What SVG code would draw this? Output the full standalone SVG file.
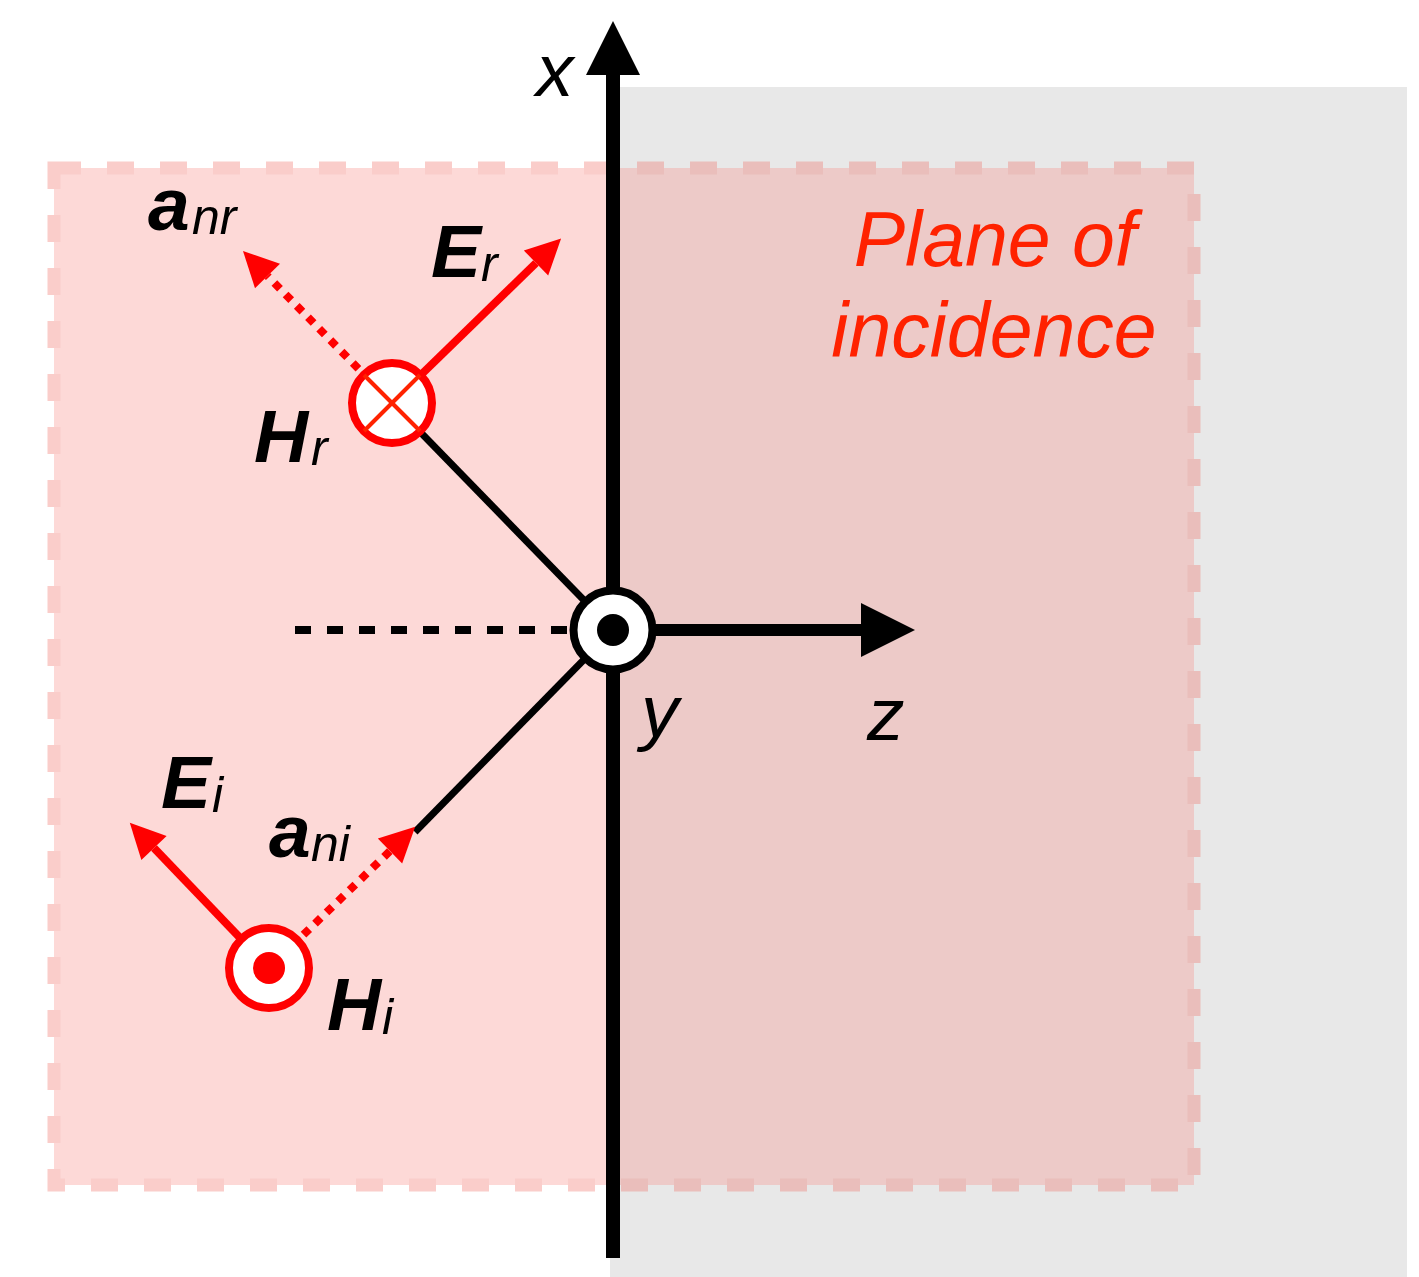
<svg xmlns="http://www.w3.org/2000/svg" width="1419" height="1277" viewBox="0 0 1419 1277">
<style>
.lbl{font-family:"Liberation Sans",Arial,Helvetica,sans-serif;fill:#000}
.big{font-size:75px;font-weight:bold;font-style:italic}
.sub{font-size:50px;font-weight:normal;font-style:italic}
.ax{font-size:75px;font-style:italic}
.plane{font-family:"Liberation Sans",Arial,Helvetica,sans-serif;font-size:77px;font-style:italic;fill:#FF2200;text-anchor:middle}
.blk{stroke:#000;fill:none}
.red{stroke:#FF0000;fill:none;stroke-width:8}
.dot{stroke-dasharray:8 8}
</style>
<defs>
<marker id="arrRed" markerUnits="userSpaceOnUse" markerWidth="36" markerHeight="36" refX="0" refY="17.5" orient="auto" overflow="visible">
<path d="M0,0 L35,17.5 L0,35 z" fill="#FF0000"/>
</marker>
<marker id="arrBlk" markerUnits="userSpaceOnUse" markerWidth="55" markerHeight="55" refX="0" refY="27" orient="auto" overflow="visible">
<path d="M0,0 L54,27 L0,54 z" fill="#000"/>
</marker>
</defs>

<g id="medium">
<rect x="610" y="87" width="797" height="1190" fill="#E8E8E8"/>
</g>
<g id="plane-of-incidence" opacity="0.33">
<rect x="54" y="168" width="1140" height="1017" fill="#F98F89" stroke="#F06A62" stroke-width="13" stroke-dasharray="27 26"/>
</g>

<g id="connectors">
<line x1="613" y1="1258" x2="613" y2="75" class="blk" stroke-width="14" marker-end="url(#arrBlk)"/>
<line x1="613" y1="630" x2="861" y2="630" class="blk" stroke-width="12" marker-end="url(#arrBlk)"/>
<line x1="295" y1="630" x2="574" y2="630" class="blk" stroke-width="8" stroke-dasharray="16 16"/>
<line x1="392" y1="403" x2="613" y2="630" class="blk" stroke-width="7"/>
<line x1="613" y1="630" x2="415" y2="832" class="blk" stroke-width="7"/>
<line x1="392" y1="403" x2="536" y2="263" class="red" marker-end="url(#arrRed)"/>
<line x1="392" y1="403" x2="267.5" y2="276" class="red dot" marker-end="url(#arrRed)"/>
<line x1="269" y1="968" x2="154" y2="848" class="red" marker-end="url(#arrRed)"/>
<line x1="269" y1="968" x2="390" y2="851" class="red dot" marker-end="url(#arrRed)"/>
</g>

<g id="origin">
<circle cx="613" cy="630" r="39.5" fill="#fff" stroke="#000" stroke-width="8"/>
<circle cx="613" cy="630" r="16" fill="#000"/>
</g>
<g id="Hr">
<circle cx="392" cy="403" r="40" fill="#fff" stroke="#FF0000" stroke-width="8"/>
<line x1="364" y1="375" x2="420" y2="431" stroke="#FF2200" stroke-width="4"/>
<line x1="420" y1="375" x2="364" y2="431" stroke="#FF2200" stroke-width="4"/>
</g>
<g id="Hi">
<circle cx="269" cy="968" r="40" fill="#fff" stroke="#FF0000" stroke-width="8"/>
<circle cx="269" cy="968" r="16" fill="#FF0000"/>
</g>

<g id="labels">
<text class="lbl"><tspan class="big" x="148" y="230">a</tspan><tspan class="sub" x="192" y="234">nr</tspan></text>
<text class="lbl"><tspan class="big" x="431" y="277">E</tspan><tspan class="sub" x="481" y="281">r</tspan></text>
<text class="lbl"><tspan class="big" x="254" y="462">H</tspan><tspan class="sub" x="311" y="465">r</tspan></text>
<text class="lbl"><tspan class="big" x="161" y="808">E</tspan><tspan class="sub" x="212" y="812">i</tspan></text>
<text class="lbl"><tspan class="big" x="269" y="857">a</tspan><tspan class="sub" x="311" y="861">ni</tspan></text>
<text class="lbl"><tspan class="big" x="327" y="1030">H</tspan><tspan class="sub" x="382" y="1034">i</tspan></text>
<text class="lbl ax" x="536" y="96">x</text>
<text class="lbl ax" x="641" y="737">y</text>
<text class="lbl ax" x="867" y="740">z</text>
<text class="plane"><tspan x="995" y="266">Plane of</tspan><tspan x="994" y="357">incidence</tspan></text>
</g>
</svg>
